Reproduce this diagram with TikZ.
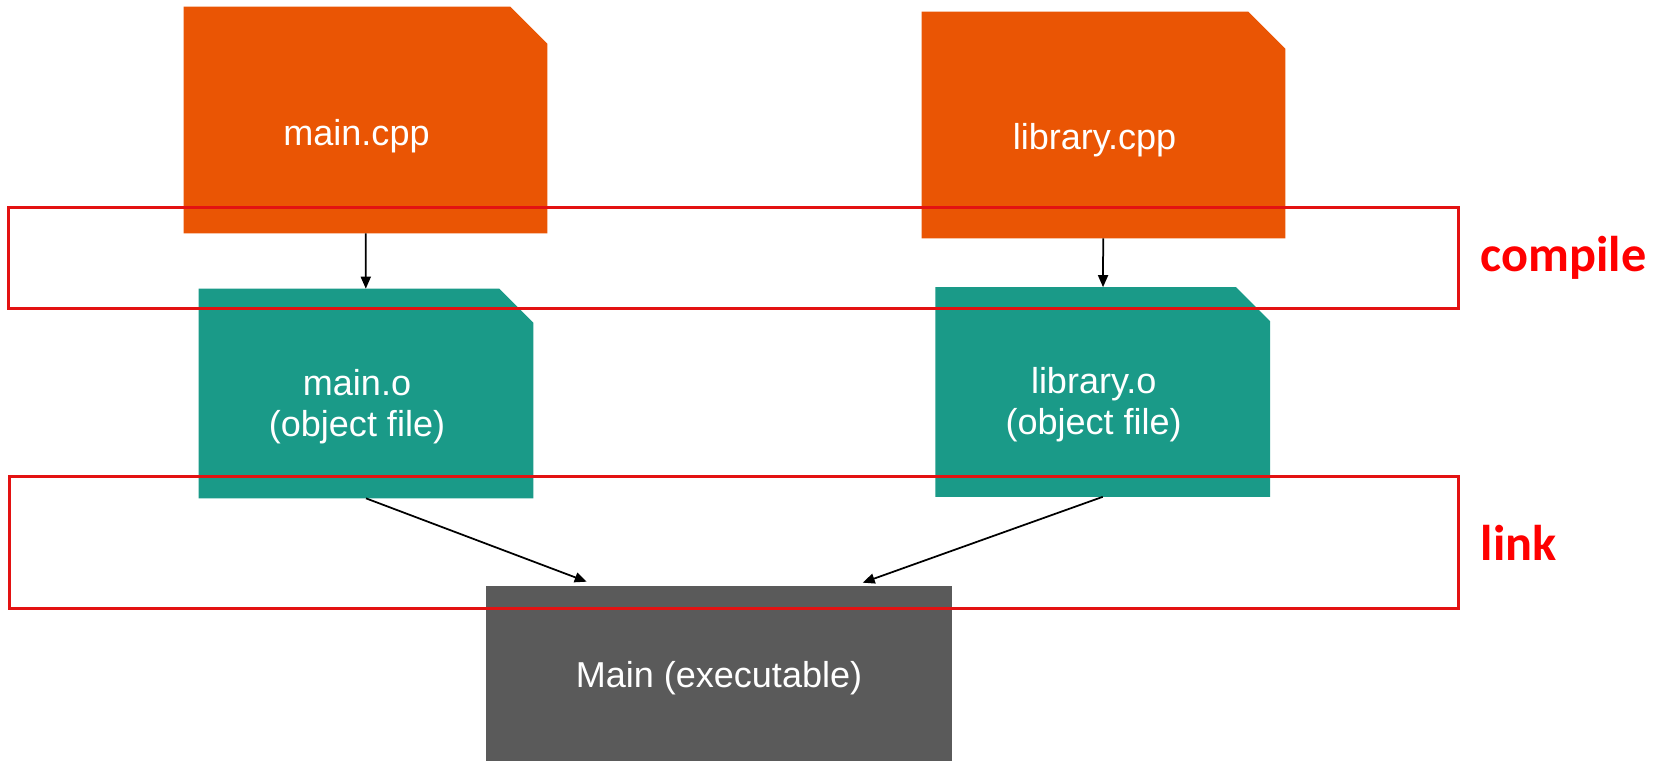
\documentclass[tikz,border=0pt]{standalone}
\usepackage{fontspec}
\setmainfont{Liberation Sans}
\newfontfamily\stagefont{Carlito}
\usetikzlibrary{arrows.meta, positioning, calc, backgrounds}
\definecolor{corange}{HTML}{EA5504}
\definecolor{cteal}{HTML}{1A9A88}
\definecolor{cgrey}{HTML}{5A5A5A}
\definecolor{cred}{HTML}{E31212}
\definecolor{clabel}{HTML}{FF0000}
\tikzset{
  every picture/.style={x=0.02cm, y=-0.02cm},
  src/.style={inner sep=0pt, minimum width=7.26cm, minimum height=4.52cm},
  obj/.style={inner sep=0pt, minimum width=6.68cm, minimum height=4.18cm},
  ftext/.style={text=white, align=center, font=\fontsize{20.5}{23.3}\selectfont},
  arrow/.style={-{Triangle[length=0.24cm, width=0.2cm]}, line width=0.035cm, black},
  stage/.style={draw=cred, line width=0.06cm, inner sep=0pt},
  stagelabel/.style={text=clabel, inner sep=0pt, font=\stagefont\bfseries\fontsize{28.6}{33}\selectfont},
}
\begin{document}
\begin{tikzpicture}
  \useasboundingbox (0,0) rectangle (1655,761);
  % sources
  \node[src, label={[ftext, xshift=-0.18cm, yshift=-0.32cm]center:main.cpp}] (maincpp) at (365.5,120) {};
  \node[src, label={[ftext, xshift=-0.18cm, yshift=-0.3cm]center:library.cpp}] (libcpp) at (1103.5,125) {};
  % object files
  \node[obj, label={[ftext, xshift=-0.18cm, yshift=-0.26cm]center:{main.o\\(object file)}}] (maino) at (366,393.5) {};
  \node[obj, label={[ftext, xshift=-0.18cm, yshift=-0.26cm]center:{library.o\\(object file)}}] (libo) at (1102.7,392) {};
  % executable
  \node[fill=cgrey, inner sep=0pt, minimum width=9.32cm, minimum height=3.5cm,
        label={[ftext, yshift=-0.1cm]center:Main (executable)}] (exe) at (719,673.5) {};
  \begin{scope}[on background layer]
    \fill[white] (0,0) rectangle (1655,761);
    \foreach \n/\c/\k in {maincpp/corange/0.74cm, libcpp/corange/0.74cm, maino/cteal/0.68cm, libo/cteal/0.68cm}
      \fill[\c] (\n.south west) |- ([xshift=-\k]\n.north east) -- ([yshift=-\k]\n.north east) |- cycle;
  \end{scope}
  \coordinate (inl) at ($(exe.north west)+(101,-4)$);
  \coordinate (inr) at ($(exe.north west)+(377,-3)$);
  \draw[arrow] (maincpp) -- (maino);
  \draw[arrow] (libcpp) -- (libo);
  \draw[arrow] (maino.south) -- (inl);
  \draw[arrow] (libo.south) -- (inr);
  % stages
  \node[stage, minimum width=29.02cm, minimum height=2.04cm] (compile) at (733.5,258) {};
  \node[stagelabel, right=0.4cm of compile] (compiletxt) {compile};
  \node[stage, minimum width=29cm, minimum height=2.66cm] (link) at (734,542.5) {};
  \node[stagelabel, right=0.4cm of link] (linktxt) {link};
\end{tikzpicture}
\end{document}
